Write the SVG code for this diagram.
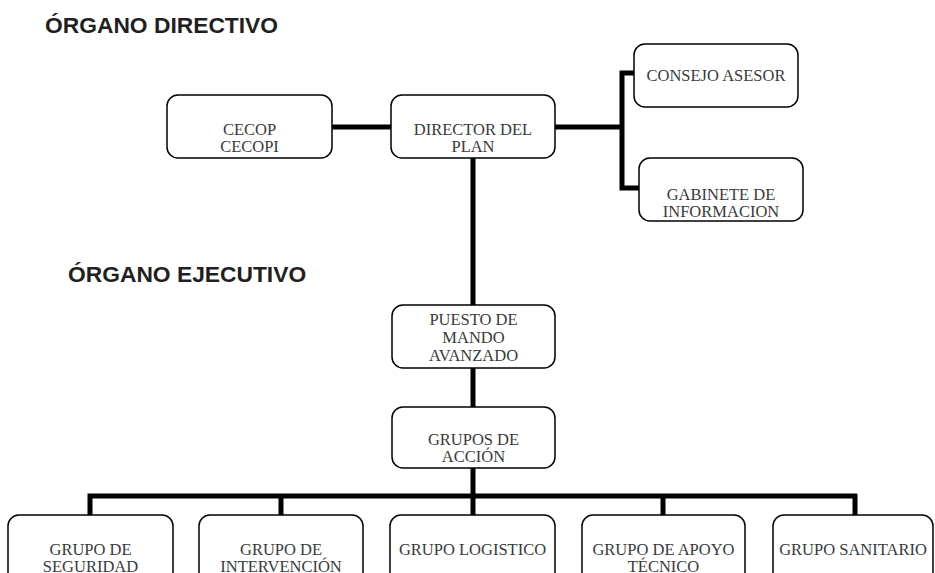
<svg xmlns="http://www.w3.org/2000/svg" width="935" height="573" viewBox="0 0 935 573">
<style>
.box{fill:#fff;stroke:#000;stroke-width:1.5}
.t{font-family:"Liberation Serif","Times New Roman",serif;font-size:16.5px;fill:#3a3a3a;text-anchor:middle}
.h{font-family:"Liberation Sans",Arial,sans-serif;font-size:22.8px;font-weight:bold;fill:#231f20}
.c{fill:none;stroke:#000;stroke-width:5}
</style>
<rect width="935" height="573" fill="#fff"/>
<text class="h" x="45" y="33">ÓRGANO DIRECTIVO</text>
<text class="h" x="68" y="282">ÓRGANO EJECUTIVO</text>
<g id="connectors">
<line class="c" x1="332" y1="127" x2="391" y2="127"/>
<line class="c" x1="555" y1="127" x2="622" y2="127"/>
<polyline class="c" points="636,73 622,73 622,188 641,188"/>
<line class="c" x1="473" y1="158" x2="473" y2="305"/>
<line class="c" x1="473" y1="368" x2="473" y2="407"/>
<line class="c" x1="473" y1="468" x2="473" y2="516"/>
<polyline class="c" points="90,516 90,496 857,496"/>
<line class="c" x1="281" y1="496" x2="281" y2="516"/>
<line class="c" x1="663" y1="496" x2="663" y2="516"/>
<line class="c" x1="855" y1="494" x2="855" y2="516"/>
</g>
<g id="cecop"><rect class="box" x="167" y="95" width="165" height="63" rx="11"/>
<text class="t" x="249.5" y="135">CECOP</text><text class="t" x="249.5" y="152">CECOPI</text></g>
<g id="director"><rect class="box" x="391" y="95" width="164" height="63" rx="11"/>
<text class="t" x="473" y="135">DIRECTOR DEL</text><text class="t" x="473" y="152">PLAN</text></g>
<g id="consejo"><rect class="box" x="634" y="44" width="164" height="63" rx="11"/>
<text class="t" x="716" y="81">CONSEJO ASESOR</text></g>
<g id="gabinete"><rect class="box" x="639" y="158" width="164" height="63" rx="11"/>
<text class="t" x="721" y="200">GABINETE DE</text><text class="t" x="721" y="217">INFORMACION</text></g>
<g id="puesto"><rect class="box" x="392" y="305" width="163" height="63" rx="11"/>
<text class="t" x="473.5" y="325">PUESTO DE</text><text class="t" x="473.5" y="343">MANDO</text><text class="t" x="473.5" y="361">AVANZADO</text></g>
<g id="grupos"><rect class="box" x="392" y="407" width="163" height="61" rx="11"/>
<text class="t" x="473.5" y="445">GRUPOS DE</text><text class="t" x="473.5" y="462">ACCIÓN</text></g>
<g id="seguridad"><rect class="box" x="8" y="515" width="165" height="70" rx="11"/>
<text class="t" x="90.5" y="555">GRUPO DE</text><text class="t" x="90.5" y="572">SEGURIDAD</text></g>
<g id="intervencion"><rect class="box" x="199" y="515" width="164" height="70" rx="11"/>
<text class="t" x="281" y="555">GRUPO DE</text><text class="t" x="281" y="572">INTERVENCIÓN</text></g>
<g id="logistico"><rect class="box" x="390" y="515" width="165" height="70" rx="11"/>
<text class="t" x="472.5" y="555">GRUPO LOGISTICO</text></g>
<g id="apoyo"><rect class="box" x="582" y="515" width="163" height="70" rx="11"/>
<text class="t" x="663.5" y="555">GRUPO DE APOYO</text><text class="t" x="663.5" y="572">TÉCNICO</text></g>
<g id="sanitario"><rect class="box" x="773" y="515" width="160" height="70" rx="11"/>
<text class="t" x="853" y="555">GRUPO SANITARIO</text></g>
</svg>
